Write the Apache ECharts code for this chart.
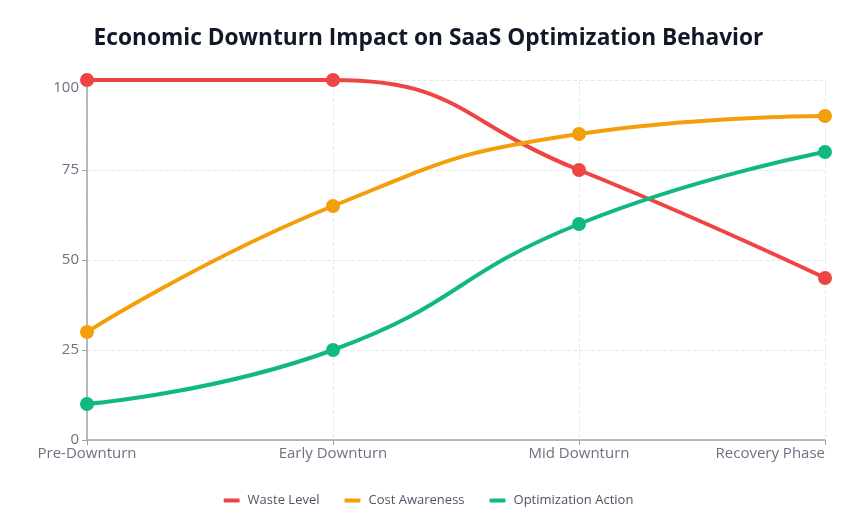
<!DOCTYPE html>
<html>
<head>
<meta charset="utf-8">
<script src="https://cdn.jsdelivr.net/npm/echarts@6/dist/echarts.min.js"></script>
<style>
  html, body { margin: 0; padding: 0; background: #fff; }
  #chart { width: 857px; height: 524px; }
</style>
</head>
<body>
<div id="chart"></div>
<script>
// data
const phases = ['Pre-Downturn', 'Early Downturn', 'Mid Downturn', 'Recovery Phase'];
const wasteLevel = [100, 100, 75, 45];
const costAwareness = [30, 65, 85, 90];
const optimizationAction = [10, 25, 60, 80];

document.addEventListener('DOMContentLoaded', function () {
    const chartDom = document.getElementById('chart');
    const chart = echarts.init(chartDom);

    function lineSeries(name, data, color) {
        return {
            name: name,
            type: 'line',
            data: data,
            smooth: 0.5,
            symbol: 'circle',
            symbolSize: 14,
            lineStyle: { width: 4, color: color },
            itemStyle: { color: color }
        };
    }

    const option = {
        textStyle: { fontFamily: 'Open Sans' },
        title: {
            text: 'Economic Downturn Impact on SaaS Optimization Behavior',
            left: 'center',
            top: 22,
            textStyle: { fontSize: 22.7, fontWeight: 'bold', color: '#111827', fontFamily: 'Open Sans' }
        },
        legend: {
            bottom: 12,
            icon: 'roundRect',
            itemWidth: 16,
            itemHeight: 4,
            itemGap: 25,
            textStyle: { fontSize: 13, color: '#4b5563', padding: [0, 0, 0, 3] },
            data: ['Waste Level', 'Cost Awareness', 'Optimization Action']
        },
        grid: { left: 87, right: 32, top: 80, bottom: 84, outerBoundsMode: 'none' },
        xAxis: {
            type: 'category',
            data: phases,
            boundaryGap: false,
            axisLine: { lineStyle: { color: '#9ca3af', width: 1.5 } },
            axisTick: { show: true, lineStyle: { color: '#9ca3af' } },
            axisLabel: { fontSize: 15, color: '#6b7280', margin: 6, alignMaxLabel: 'right' },
            splitLine: { show: true, lineStyle: { type: 'dashed', color: '#e5e7eb' } }
        },
        yAxis: {
            type: 'value',
            min: 0,
            max: 100,
            interval: 25,
            axisLine: { show: true, lineStyle: { color: '#9ca3af', width: 1.5 } },
            axisTick: { show: true, lineStyle: { color: '#9ca3af' } },
            axisLabel: {
                fontSize: 15,
                color: '#6b7280',
                // top label sits just below the top edge, like the original
                formatter: function (value) {
                    return value === 100 ? '{top|' + value + '}' : String(value);
                },
                rich: {
                    top: { fontSize: 15, color: '#6b7280', padding: [16, 0, 0, 0] }
                }
            },
            splitLine: { show: true, lineStyle: { type: 'dashed', color: '#e5e7eb' } }
        },
        series: [
            lineSeries('Waste Level', wasteLevel, '#ef4444'),
            lineSeries('Cost Awareness', costAwareness, '#f59e0b'),
            lineSeries('Optimization Action', optimizationAction, '#10b981')
        ]
    };
    chart.setOption(option);
});
</script>
</body>
</html>
